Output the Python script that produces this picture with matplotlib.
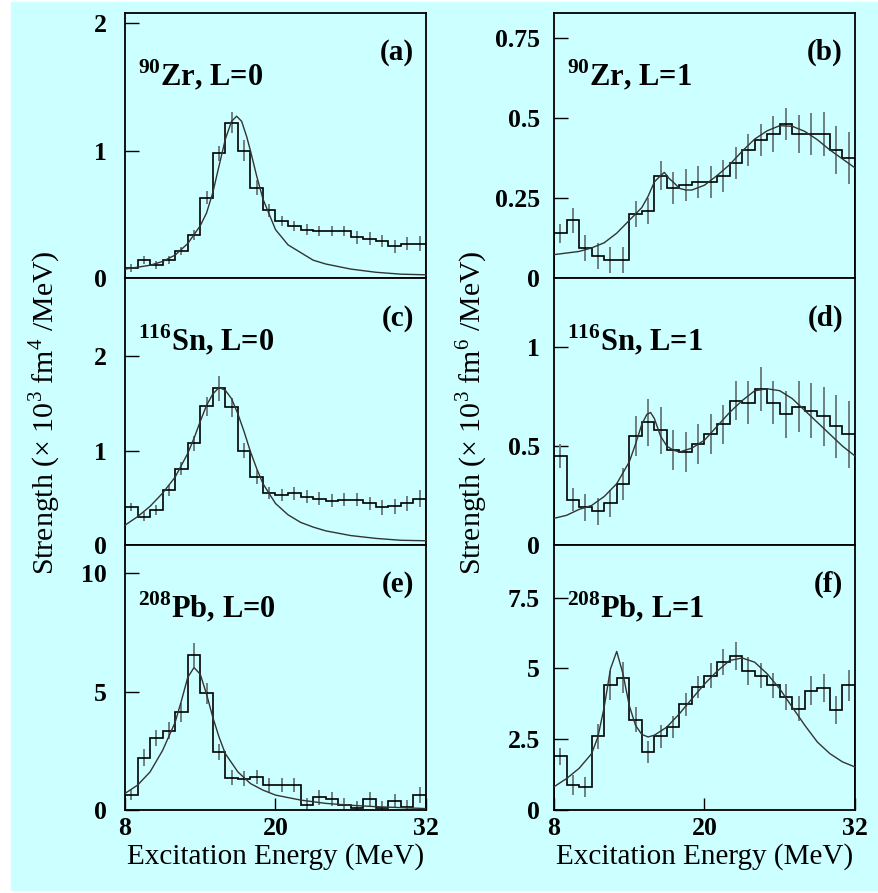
import numpy as np
import matplotlib
matplotlib.use("Agg")
import matplotlib.pyplot as plt
from matplotlib.patches import Rectangle

plt.rcParams['font.family'] = ['Liberation Serif', 'DejaVu Serif']
plt.rcParams['mathtext.fontset'] = 'custom'
plt.rcParams['mathtext.rm'] = 'Liberation Serif'
plt.rcParams['mathtext.bf'] = 'Liberation Serif:bold'

# bin edges (MeV), 1 MeV bins
edges = np.arange(8, 33, 1)
centers = edges[:-1] + 0.5

# histograms
h_a = [0.08, 0.14, 0.10, 0.14, 0.21, 0.34, 0.63, 0.98, 1.22, 1.00, 0.71, 0.53,
       0.45, 0.41, 0.38, 0.37, 0.37, 0.37, 0.32, 0.31, 0.29, 0.25, 0.27, 0.27]
e_a = [0.03, 0.03, 0.03, 0.03, 0.03, 0.04, 0.05, 0.06, 0.08, 0.08, 0.06, 0.05,
       0.04, 0.04, 0.04, 0.04, 0.04, 0.04, 0.05, 0.05, 0.05, 0.05, 0.05, 0.06]
h_b = [0.14, 0.18, 0.094, 0.068, 0.057, 0.057, 0.20, 0.21, 0.32, 0.28, 0.29, 0.30,
       0.30, 0.32, 0.36, 0.40, 0.43, 0.45, 0.48, 0.45, 0.45, 0.45, 0.40, 0.375]
e_b = [0.03, 0.04, 0.04, 0.04, 0.04, 0.04, 0.04, 0.04, 0.045, 0.05, 0.05, 0.05,
       0.05, 0.05, 0.05, 0.05, 0.05, 0.055, 0.05, 0.06, 0.065, 0.07, 0.075, 0.08]
h_c = [0.40, 0.30, 0.37, 0.58, 0.81, 1.08, 1.47, 1.66, 1.46, 1.00, 0.72, 0.55,
       0.53, 0.55, 0.51, 0.49, 0.47, 0.48, 0.48, 0.44, 0.40, 0.41, 0.44, 0.49]
e_c = [0.04, 0.05, 0.05, 0.06, 0.07, 0.08, 0.10, 0.13, 0.10, 0.08, 0.07, 0.06,
       0.06, 0.07, 0.07, 0.07, 0.07, 0.07, 0.07, 0.07, 0.08, 0.08, 0.08, 0.09]
h_d = [0.45, 0.23, 0.19, 0.17, 0.21, 0.31, 0.55, 0.62, 0.58, 0.48, 0.47, 0.51,
       0.56, 0.61, 0.73, 0.72, 0.79, 0.72, 0.66, 0.70, 0.68, 0.65, 0.60, 0.56]
e_d = [0.06, 0.06, 0.07, 0.07, 0.07, 0.08, 0.10, 0.12, 0.12, 0.10, 0.10, 0.10,
       0.10, 0.10, 0.10, 0.11, 0.11, 0.11, 0.12, 0.13, 0.14, 0.15, 0.16, 0.17]
h_e = [0.63, 2.21, 3.05, 3.36, 4.13, 6.55, 4.93, 2.45, 1.37, 1.33, 1.40, 1.05,
       1.05, 1.05, 0.21, 0.53, 0.45, 0.21, 0.10, 0.45, 0.07, 0.39, 0.14, 0.63]
e_e = [0.20, 0.35, 0.35, 0.35, 0.40, 0.50, 0.45, 0.35, 0.30, 0.30, 0.30, 0.30,
       0.30, 0.30, 0.30, 0.30, 0.30, 0.30, 0.30, 0.30, 0.30, 0.30, 0.30, 0.35]
h_f = [1.90, 0.88, 0.82, 2.60, 4.40, 4.67, 3.19, 2.05, 2.60, 2.93, 3.73, 4.34,
       4.75, 5.22, 5.45, 4.90, 4.75, 4.40, 3.99, 3.58, 4.22, 4.30, 3.52, 4.40]
e_f = [0.30, 0.35, 0.35, 0.45, 0.50, 0.55, 0.45, 0.40, 0.40, 0.40, 0.40, 0.40,
       0.45, 0.45, 0.50, 0.50, 0.45, 0.45, 0.45, 0.45, 0.50, 0.50, 0.50, 0.55]

# fit curves
cx_a = [8, 10, 11, 12, 13, 14, 14.5, 15, 15.5, 16, 16.5, 16.9, 17.3, 17.7, 18, 18.5,
        19, 19.5, 20, 21, 22, 23, 24, 26, 28, 30, 32]
cy_a = [0.07, 0.10, 0.13, 0.18, 0.27, 0.41, 0.51, 0.67, 0.88, 1.09, 1.23, 1.27, 1.23,
        1.11, 1.00, 0.80, 0.62, 0.50, 0.38, 0.26, 0.20, 0.14, 0.11, 0.07, 0.045, 0.03, 0.025]
cx_b = [8, 10, 11, 12, 13, 14, 15, 15.5, 16, 16.5, 16.8, 17.2, 17.5, 18, 18.5, 19,
        20, 21, 22, 23, 24, 25, 26, 27, 28, 29, 30, 31, 32]
cy_b = [0.073, 0.083, 0.094, 0.11, 0.14, 0.18, 0.22, 0.255, 0.30, 0.32, 0.33, 0.31,
        0.30, 0.28, 0.275, 0.275, 0.29, 0.32, 0.354, 0.396, 0.434, 0.46, 0.476, 0.474,
        0.458, 0.432, 0.40, 0.372, 0.344]
cx_c = [8, 9, 10, 11, 12, 13, 13.5, 14, 14.5, 15, 15.5, 16, 16.5, 17, 17.5, 18, 18.5,
        19, 20, 21, 22, 23, 24, 26, 28, 30, 32]
cy_c = [0.21, 0.30, 0.41, 0.55, 0.72, 0.97, 1.13, 1.31, 1.48, 1.60, 1.67, 1.64, 1.55,
        1.39, 1.20, 0.99, 0.81, 0.65, 0.44, 0.32, 0.24, 0.19, 0.15, 0.10, 0.07, 0.05, 0.045]
cx_d = [8, 9, 10, 11, 12, 13, 14, 14.5, 15, 15.4, 15.7, 16, 16.5, 17, 17.5, 18, 19,
        20, 21, 22, 23, 24, 25, 26, 27, 28, 29, 30, 31, 32]
cy_d = [0.135, 0.15, 0.18, 0.20, 0.245, 0.31, 0.42, 0.51, 0.61, 0.66, 0.67, 0.64, 0.55,
        0.50, 0.48, 0.47, 0.49, 0.53, 0.60, 0.67, 0.73, 0.78, 0.79, 0.78, 0.74, 0.68,
        0.62, 0.56, 0.50, 0.45]
cx_e = [8, 9, 10, 11, 12, 12.5, 13, 13.5, 14, 14.5, 15, 15.5, 16, 17, 18, 19, 20, 22,
        24, 26, 28, 30, 32]
cy_e = [0.70, 1.05, 1.61, 2.52, 3.71, 4.62, 5.60, 6.02, 5.74, 4.90, 3.92, 3.08, 2.38,
        1.61, 1.12, 0.84, 0.63, 0.42, 0.28, 0.20, 0.14, 0.10, 0.06]
cx_f = [8, 9, 10, 11, 11.5, 12, 12.5, 13, 13.5, 14, 14.5, 15, 15.5, 16, 17, 18, 19, 20,
        21, 22, 23, 24, 25, 26, 27, 28, 29, 30, 31, 32]
cy_f = [0.82, 1.11, 1.47, 1.99, 2.58, 3.63, 4.98, 5.60, 4.81, 3.69, 2.99, 2.67, 2.58,
        2.64, 2.93, 3.40, 3.93, 4.45, 4.90, 5.28, 5.37, 5.22, 4.81, 4.28, 3.63, 2.99,
        2.40, 1.99, 1.70, 1.52]

labels = ['$^{\\mathbf{90}}$Zr, L=0', '$^{\\mathbf{90}}$Zr, L=1',
          '$^{\\mathbf{116}}$Sn, L=0', '$^{\\mathbf{116}}$Sn, L=1',
          '$^{\\mathbf{208}}$Pb, L=0', '$^{\\mathbf{208}}$Pb, L=1']
tags = ['(a)', '(b)', '(c)', '(d)', '(e)', '(f)']
hists = [h_a, h_b, h_c, h_d, h_e, h_f]
errs = [e_a, e_b, e_c, e_d, e_e, e_f]
curves = [(cx_a, cy_a), (cx_b, cy_b), (cx_c, cy_c), (cx_d, cy_d), (cx_e, cy_e), (cx_f, cy_f)]
ytops = [2.08, 0.828, 2.83, 1.35, 11.2, 9.36]
yticks = [[0, 1, 2], [0, 0.25, 0.5, 0.75], [0, 1, 2], [0, 0.5, 1],
          [0, 5, 10], [0, 2.5, 5, 7.5]]
yticklabels = [['0', '1', '2'], ['0', '0.25', '0.5', '0.75'], ['0', '1', '2'],
               ['0', '0.5', '1'], ['0', '5', '10'], ['0', '2.5', '5', '7.5']]

W, H = 879, 893
bg = '#ccffff'
fig = plt.figure(figsize=(W / 100, H / 100), dpi=100)
fig.patch.set_facecolor('white')
fig.patches.append(Rectangle((11 / W, 3 / H), 1 - 11 / W, 888 / H,
                             transform=fig.transFigure, color=bg, zorder=-10))

lefts = [125, 554]
rows = [(13, 278), (278, 545), (545, 810)]
for i in range(6):
    col = i % 2
    r = i // 2
    top, bot = rows[r]
    ax = fig.add_axes([lefts[col] / W, (H - bot) / H, 301 / W, (bot - top) / H])
    ax.set_facecolor(bg)
    ax.stairs(hists[i], edges, color='black', lw=1.2, zorder=3)
    ax.errorbar(centers, hists[i], yerr=errs[i], fmt='none', ecolor='#6f7f7f',
                elinewidth=1.4, capsize=0, zorder=2)
    ax.plot(curves[i][0], curves[i][1], color='#333333', lw=1.0, zorder=4)
    ax.set_xlim(8, 32)
    ax.set_ylim(0, ytops[i])
    ax.set_yticks(yticks[i])
    ax.set_yticklabels(yticklabels[i], fontsize=18.5, fontweight='bold')
    ax.tick_params(axis='y', direction='in', length=10, width=1, pad=13 if col == 0 else 10)
    if r == 2:
        ax.set_xticks([8, 20, 32])
        ax.set_xticklabels(['8', '20', '32'], fontsize=18.5, fontweight='bold')
        ax.tick_params(axis='x', direction='in', length=9, width=1, pad=5)
    else:
        ax.set_xticks([])
    for s in ax.spines.values():
        s.set_linewidth(1.3)
    ax.text(0.043, 0.728, labels[i], transform=ax.transAxes, fontsize=22,
            fontweight='bold', ha='left', va='baseline')
    ax.text(0.96, 0.85, tags[i], transform=ax.transAxes, fontsize=21,
            fontweight='bold', ha='right', va='center')

fig.text(45 / W, (H - 413) / H, 'Strength (× 10$^3$ fm$^4$ /MeV)', rotation=90,
         ha='center', va='center', fontsize=21.5)
fig.text(472 / W, (H - 413) / H, 'Strength (× 10$^3$ fm$^6$ /MeV)', rotation=90,
         ha='center', va='center', fontsize=21.5)
fig.text(275.5 / W, (H - 857) / H, 'Excitation Energy (MeV)', ha='center',
         va='center', fontsize=21)
fig.text(704.5 / W, (H - 857) / H, 'Excitation Energy (MeV)', ha='center',
         va='center', fontsize=21)

fig.savefig('out.png', dpi=100, facecolor=fig.get_facecolor())
